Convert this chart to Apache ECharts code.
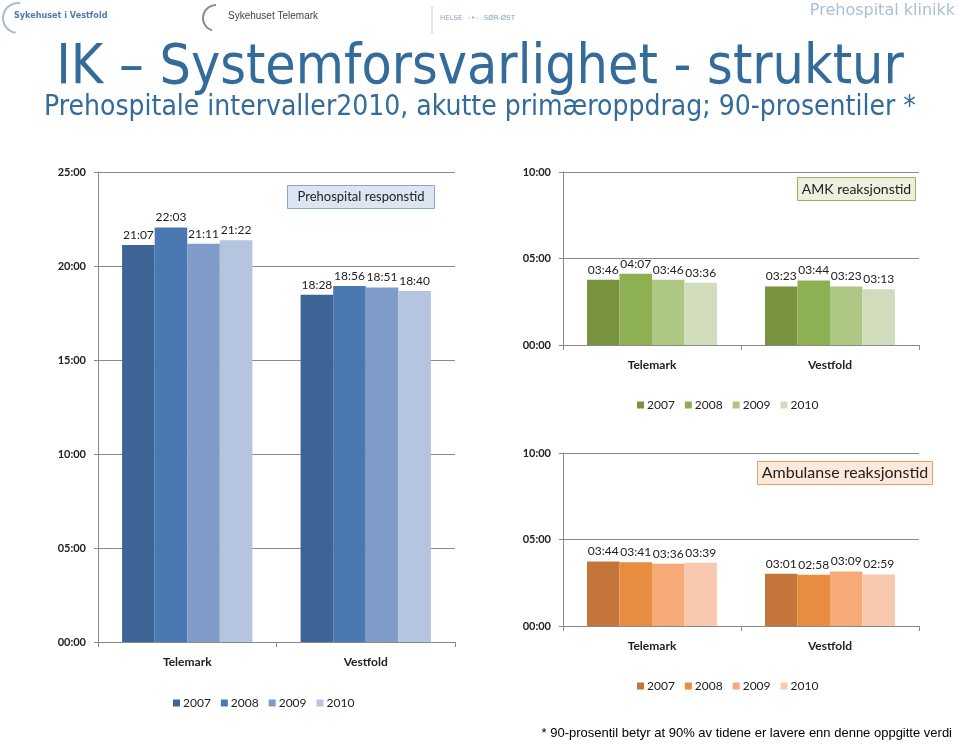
<!DOCTYPE html>
<html>
<head>
<meta charset="utf-8">
<script src="https://cdn.jsdelivr.net/npm/echarts@6/dist/echarts.min.js"></script>
<style>html,body{margin:0;padding:0;background:#fff}#c{width:960px;height:745px}</style>
</head>
<body>
<div id="c"></div>
<script>
// ---- data (seconds) ----
const categories = ['Telemark', 'Vestfold'];
const years = ['2007', '2008', '2009', '2010'];
// Prehospital responstid
const resp2007 = [1267, 1108];
const resp2008 = [1323, 1136];
const resp2009 = [1271, 1131];
const resp2010 = [1282, 1120];
// AMK reaksjonstid
const amk2007 = [226, 203];
const amk2008 = [247, 224];
const amk2009 = [226, 203];
const amk2010 = [216, 193];
// Ambulanse reaksjonstid
const amb2007 = [224, 181];
const amb2008 = [221, 178];
const amb2009 = [216, 189];
const amb2010 = [219, 179];

const leftTicks = { min: 0, max: 1500, interval: 300 };
const rightTicks = { min: 0, max: 600, interval: 300 };

const blues = ['#3c6495', '#4a78b0', '#7f9bc8', '#b5c4df'];
const greens = ['#77933c', '#8db152', '#adc785', '#d0dcbb'];
const oranges = ['#c3753a', '#e88c3f', '#f6aa78', '#f8c9af'];

function mmss(v) {
  v = Math.round(v);
  const m = Math.floor(v / 60), s = v % 60;
  return String(m).padStart(2, '0') + ':' + String(s).padStart(2, '0');
}

const FONT = 'Lato, "Open Sans", sans-serif';
const chart = echarts.init(document.getElementById('c'), null, { renderer: 'canvas' });

const grids = [
  { left: 98, top: 172, right: 505, bottom: 103 },
  { left: 563, top: 172, right: 41, bottom: 400 },
  { left: 563, top: 453, right: 41, bottom: 119 }
];

function xAxis(i) {
  return {
    type: 'category', gridIndex: i, data: categories,
    axisLine: { lineStyle: { color: '#8a8a8a' } },
    axisTick: { show: true, length: 5, lineStyle: { color: '#8a8a8a' } },
    axisLabel: { color: '#222', fontFamily: FONT, fontSize: 12, fontWeight: 'bold', margin: 14 }
  };
}
function yAxis(i, t) {
  return {
    type: 'value', gridIndex: i, min: t.min, max: t.max, interval: t.interval,
    axisLine: { show: true, lineStyle: { color: '#8a8a8a' } },
    axisTick: { show: true, length: 4, inside: false, lineStyle: { color: '#8a8a8a' } },
    splitLine: { lineStyle: { color: '#8a8a8a' } },
    axisLabel: { color: '#222', fontFamily: FONT, fontSize: 11, fontWeight: 'bold', formatter: mmss, margin: 12 }
  };
}

const sets = [
  { prefix: 'R', data: [resp2007, resp2008, resp2009, resp2010], colors: blues, idx: 0 },
  { prefix: 'A', data: [amk2007, amk2008, amk2009, amk2010], colors: greens, idx: 1 },
  { prefix: 'B', data: [amb2007, amb2008, amb2009, amb2010], colors: oranges, idx: 2 }
];

const series = [];
sets.forEach(set => {
  set.data.forEach((d, k) => {
    series.push({
      type: 'bar', name: set.prefix + years[k], xAxisIndex: set.idx, yAxisIndex: set.idx,
      data: d, barGap: '0%', barCategoryGap: '27%',
      itemStyle: { color: set.colors[k] },
      label: { show: true, position: 'top', distance: 4, formatter: p => mmss(p.value),
        fontFamily: FONT, fontSize: 12, color: '#222' }
    });
  });
});

function legend(prefix, centerX, top) {
  return {
    data: years.map(y => prefix + y), left: centerX - 90, top: top, width: 200,
    icon: 'rect', itemWidth: 7, itemHeight: 7, itemGap: 10,
    formatter: n => n.slice(1), selectedMode: false,
    textStyle: { fontFamily: FONT, fontSize: 12, color: '#222', padding: [0, 0, 0, -2] }
  };
}

function box(x, y, w, h, text, fill, stroke, fs) {
  return {
    type: 'group', left: x, top: y, children: [
      { type: 'rect', shape: { x: 0, y: 0, width: w, height: h }, style: { fill: fill, stroke: stroke, lineWidth: 1 } },
      { type: 'text', x: w / 2, y: h / 2, style: { text: text, fill: '#222', font: fs + 'px ' + FONT, textAlign: 'center', textVerticalAlign: 'middle' } }
    ]
  };
}

const option = {
  animation: false,
  grid: grids,
  xAxis: [xAxis(0), xAxis(1), xAxis(2)],
  yAxis: [yAxis(0, leftTicks), yAxis(1, rightTicks), yAxis(2, rightTicks)],
  legend: [legend('R', 258, 692), legend('A', 722, 394), legend('B', 722, 675)],
  series: series,
  graphic: [
    // header
    { type: 'text', right: 5, top: 3, style: { text: 'Prehospital klinikk', fill: '#a9bfd8', font: '16px "DejaVu Sans", sans-serif' } },
    { type: 'text', left: 14, top: 11, style: { text: 'Sykehuset i Vestfold', fill: '#4f79ad', font: 'bold 9px "DejaVu Sans Condensed", "DejaVu Sans", sans-serif' } },
    { type: 'arc', shape: { cx: 18, cy: 18, r: 15, startAngle: Math.PI * 0.55, endAngle: Math.PI * 1.55 }, style: { stroke: '#a9bcd3', lineWidth: 2, fill: null } },
    { type: 'text', left: 228, top: 11, style: { text: 'Sykehuset Telemark', fill: '#444', font: '10px "Liberation Sans", sans-serif' } },
    { type: 'arc', shape: { cx: 216, cy: 18, r: 13, startAngle: Math.PI * 0.6, endAngle: Math.PI * 1.5 }, style: { stroke: '#888', lineWidth: 2, fill: null } },
    { type: 'line', shape: { x1: 432, y1: 6, x2: 432, y2: 34 }, style: { stroke: '#ccc', lineWidth: 1 } },
    { type: 'text', left: 440, top: 15, style: { text: 'HELSE  ◦•◦  SØR-ØST', fill: '#8aa0bd', font: '7px "DejaVu Sans", sans-serif' } },
    // title
    { type: 'text', x: 480, y: 69, style: { text: 'IK – Systemforsvarlighet - struktur', fill: '#336b9b', font: '55px "DejaVu Sans Condensed", "DejaVu Sans", sans-serif', textAlign: 'center', textVerticalAlign: 'middle' } },
    { type: 'text', x: 480, y: 108, style: { text: 'Prehospitale intervaller2010, akutte primæroppdrag; 90-prosentiler *', fill: '#336b9b', font: '28px "DejaVu Sans Condensed", "DejaVu Sans", sans-serif', textAlign: 'center', textVerticalAlign: 'middle' } },
    // chart title boxes
    box(287, 185, 147, 23, 'Prehospital responstid', '#dce6f2', '#8da5c8', 13),
    box(797, 177, 118, 23, 'AMK reaksjonstid', '#ebf1de', '#98b657', 14),
    box(757, 461, 175, 23, 'Ambulanse reaksjonstid', '#fde9d9', '#e3a06c', 16),
    // footnote
    { type: 'text', right: 8, top: 727, style: { text: '* 90-prosentil betyr at 90% av tidene er lavere enn denne oppgitte verdi', fill: '#000', font: '13px "Liberation Sans", Arial, sans-serif' } }
  ]
};
chart.setOption(option);
</script>
</body>
</html>
